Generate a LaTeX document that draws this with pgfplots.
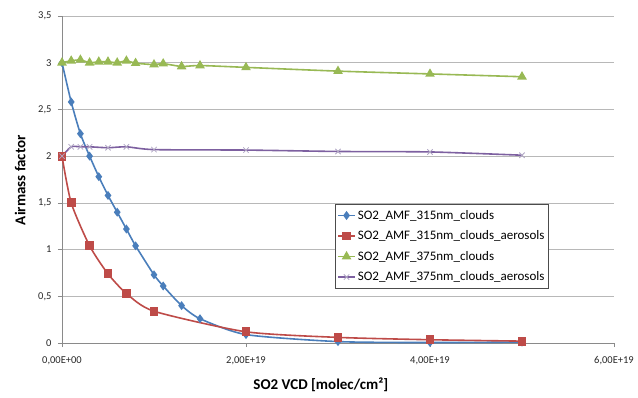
\documentclass[border=0pt]{standalone}
\usepackage{pgfplots}
\pgfplotsset{compat=1.18}
\usepackage{fontspec}
\setmainfont{Carlito}
\definecolor{cblue}{HTML}{4A7EBB}
\definecolor{cred}{HTML}{BE4B48}
\definecolor{cgreen}{HTML}{98B954}
\definecolor{cpurple}{HTML}{7D60A0}
\definecolor{cpurplem}{HTML}{B0A6C4}
\definecolor{cgrid}{HTML}{B8B8B8}
\definecolor{caxis}{HTML}{8A8A8A}
\begin{document}
\begin{tikzpicture}
\useasboundingbox (-62pt,-54pt) rectangle (576pt,343pt);
\begin{axis}[
  scale only axis, width=552pt, height=327pt,
  xmin=0, xmax=6, ymin=0, ymax=3.5,
  axis lines=left, axis line style={caxis, -},
  xtick={0,2,4,6}, xticklabels={{0,00E+00},{2,00E+19},{4,00E+19},{6,00E+19}},
  ytick={0,0.5,1,1.5,2,2.5,3,3.5},
  yticklabels={0,{0,5},1,{1,5},2,{2,5},3,{3,5}},
  ymajorgrids, grid style={cgrid, line width=0.6pt},
  tick align=outside, major tick length=4pt, tick style={caxis},
  ticklabel style={font=\fontsize{10.5}{12}\selectfont, text=black!85},
  xticklabel style={yshift=-6pt},
  yticklabel style={xshift=-3pt},
  xlabel={SO2 VCD [molec/cm²]},
  ylabel={Airmass factor},
  label style={font=\bfseries\fontsize{15}{17}\selectfont},
  xlabel style={at={(axis description cs:0.469,-0.128)}, anchor=center},
  ylabel style={at={(axis description cs:-0.076,0.498)}, anchor=center},
  legend style={at={(axis description cs:0.4946,0.425)}, anchor=north west,
    draw=black!70, font=\fontsize{13}{14}\selectfont, row sep=6pt,
    inner xsep=2pt, inner ysep=4pt},
  legend cell align=left,
  every axis plot/.append style={line width=1.6pt, smooth, tension=0.4},
]
\addplot[cblue, mark=diamond*, mark size=3.2pt, mark options={solid}] coordinates {
(0,3.0) (0.1,2.58) (0.2,2.24) (0.3,2.0) (0.4,1.78) (0.5,1.58) (0.6,1.40) (0.7,1.22) (0.8,1.04) (1.0,0.73) (1.1,0.61) (1.3,0.40) (1.5,0.26) (2.0,0.09) (3.0,0.015) (4.0,0.005) (5.0,0.01)};
\addlegendentry{SO2\_AMF\_315nm\_clouds}
\addplot[cred, mark=square*, mark size=3.6pt] coordinates {
(0,2.0) (0.1,1.5) (0.3,1.04) (0.5,0.74) (0.7,0.53) (1.0,0.34) (2.0,0.12) (3.0,0.06) (4.0,0.035) (5.0,0.02)};
\addlegendentry{SO2\_AMF\_315nm\_clouds\_aerosols}
\addplot[cgreen, mark=triangle*, mark size=4pt] coordinates {
(0,3.0) (0.1,3.02) (0.2,3.03) (0.3,3.0) (0.4,3.01) (0.5,3.01) (0.6,3.0) (0.7,3.02) (0.8,2.995) (1.0,2.98) (1.1,2.99) (1.3,2.96) (1.5,2.97) (2.0,2.95) (3.0,2.91) (4.0,2.88) (5.0,2.85)};
\addlegendentry{SO2\_AMF\_375nm\_clouds}
\addplot[cpurple, mark=x, mark size=3.8pt, mark options={cpurplem, line width=0.8pt}] coordinates {
(0,2.0) (0.1,2.1) (0.2,2.1) (0.3,2.1) (0.5,2.09) (0.7,2.1) (1.0,2.07) (2.0,2.065) (3.0,2.05) (4.0,2.045) (5.0,2.01)};
\addlegendentry{SO2\_AMF\_375nm\_clouds\_aerosols}
\end{axis}
\end{tikzpicture}
\end{document}
